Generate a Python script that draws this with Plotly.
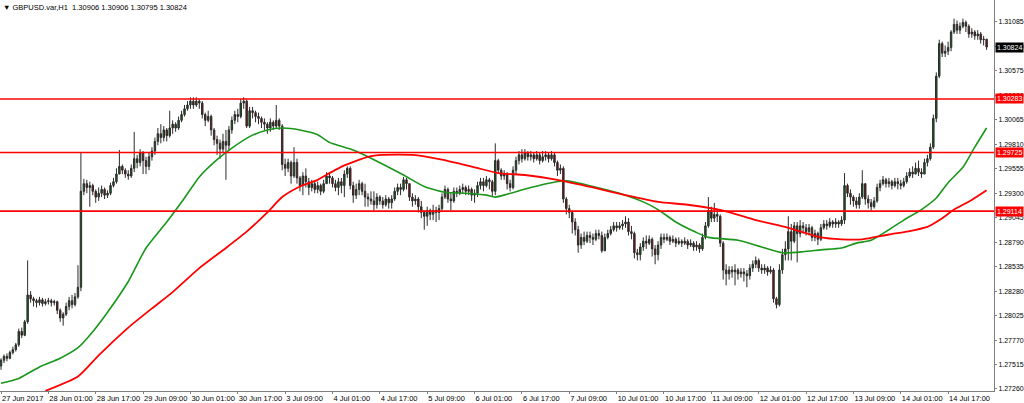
import plotly.graph_objects as go

# ---------------- data (GBPUSD H1) ----------------
first_open = 1.2750
closes = [
    1.2756,1.2760,1.2758,1.2764,1.2767,1.2772,1.2786,1.2782,1.2796,1.2824,
    1.2820,1.2818,1.2816,1.2819,1.2815,1.2817,1.2818,1.2816,1.2817,1.2808,
    1.2800,1.2804,1.2812,1.2818,1.2814,1.2822,1.2832,1.2932,1.2940,1.2936,
    1.2938,1.2932,1.2926,1.2930,1.2934,1.2928,1.2930,1.2938,1.2942,1.2950,
    1.2958,1.2954,1.2950,1.2948,1.2956,1.2966,1.2962,1.2972,1.2964,1.2958,
    1.2968,1.2974,1.2984,1.2992,1.2988,1.2996,1.2990,1.2998,1.3002,1.2998,
    1.3006,1.3012,1.3018,1.3022,1.3026,1.3022,1.3026,1.3024,1.3012,1.3006,
    1.3010,1.2996,1.2986,1.2982,1.2976,1.2984,1.2980,1.2996,1.3006,1.3012,
    1.3010,1.3024,1.3026,1.3000,1.3016,1.3014,1.3010,1.3008,1.3004,1.3002,
    1.2998,1.3004,1.3000,1.3006,1.3000,1.2960,1.2956,1.2962,1.2948,1.2962,
    1.2946,1.2938,1.2948,1.2942,1.2936,1.2940,1.2934,1.2938,1.2932,1.2940,
    1.2948,1.2946,1.2940,1.2936,1.2942,1.2938,1.2950,1.2956,1.2938,1.2928,
    1.2934,1.2940,1.2932,1.2926,1.2924,1.2922,1.2918,1.2926,1.2922,1.2918,
    1.2924,1.2920,1.2924,1.2932,1.2936,1.2934,1.2944,1.2940,1.2926,1.2922,
    1.2924,1.2916,1.2910,1.2906,1.2912,1.2908,1.2912,1.2910,1.2914,1.2926,
    1.2934,1.2924,1.2922,1.2932,1.2930,1.2934,1.2936,1.2932,1.2934,1.2928,
    1.2930,1.2938,1.2942,1.2938,1.2944,1.2942,1.2932,1.2964,1.2954,1.2948,
    1.2950,1.2940,1.2936,1.2954,1.2964,1.2970,1.2966,1.2972,1.2968,1.2970,
    1.2966,1.2970,1.2964,1.2968,1.2970,1.2966,1.2970,1.2962,1.2954,1.2956,
    1.2924,1.2914,1.2910,1.2900,1.2892,1.2876,1.2884,1.2880,1.2886,1.2884,
    1.2882,1.2888,1.2886,1.2870,1.2884,1.2888,1.2892,1.2896,1.2894,1.2896,
    1.2898,1.2900,1.2890,1.2888,1.2868,1.2866,1.2874,1.2880,1.2878,1.2882,
    1.2872,1.2866,1.2876,1.2884,1.2882,1.2884,1.2880,1.2882,1.2878,1.2880,
    1.2878,1.2880,1.2876,1.2878,1.2874,1.2876,1.2872,1.2884,1.2896,1.2912,
    1.2904,1.2908,1.2906,1.2878,1.2850,1.2846,1.2850,1.2848,1.2850,1.2846,
    1.2848,1.2846,1.2844,1.2852,1.2856,1.2860,1.2852,1.2850,1.2852,1.2848,
    1.2850,1.2820,1.2814,1.2850,1.2866,1.2872,1.2890,1.2880,1.2896,1.2888,
    1.2896,1.2894,1.2890,1.2894,1.2884,1.2888,1.2882,1.2894,1.2898,1.2896,
    1.2900,1.2898,1.2900,1.2898,1.2902,1.2938,1.2930,1.2926,1.2922,1.2918,
    1.2926,1.2940,1.2924,1.2920,1.2916,1.2922,1.2936,1.2940,1.2944,1.2940,
    1.2942,1.2938,1.2942,1.2940,1.2938,1.2942,1.2948,1.2952,1.2950,1.2956,
    1.2952,1.2950,1.2962,1.2966,1.2978,1.3008,1.3052,1.3086,1.3076,1.3078,
    1.3082,1.3098,1.3106,1.3100,1.3104,1.3108,1.3104,1.3096,1.3098,1.3094,
    1.3096,1.3090,1.30906,1.30824,
]
highs = [
    1.2758,1.2762,1.2763,1.2766,1.2770,1.2774,1.2789,1.2790,1.2798,1.2860,
    1.2828,1.2822,1.2820,1.2822,1.2821,1.2820,1.2821,1.2820,1.2819,1.2818,
    1.2810,1.2806,1.2816,1.2822,1.2824,1.2826,1.2855,1.2972,1.2945,1.2944,
    1.2942,1.2940,1.2934,1.2936,1.2938,1.2936,1.2933,1.2941,1.2946,1.2956,
    1.2975,1.2960,1.2956,1.2954,1.2960,1.2994,1.2970,1.2976,1.2974,1.2968,
    1.2972,1.2978,1.2988,1.2998,1.3002,1.3000,1.2998,1.3016,1.3006,1.3004,
    1.3010,1.3016,1.3022,1.3026,1.3030,1.3030,1.3030,1.3028,1.3026,1.3014,
    1.3016,1.3012,1.2998,1.2990,1.2986,1.2992,1.2996,1.3000,1.3010,1.3016,
    1.3018,1.3028,1.3030,1.3028,1.3020,1.3020,1.3016,1.3014,1.3010,1.3008,
    1.3004,1.3008,1.3006,1.3022,1.3008,1.3002,1.2966,1.2966,1.2964,1.2978,
    1.2966,1.2948,1.2952,1.2956,1.2946,1.2944,1.2942,1.2942,1.2940,1.2944,
    1.2952,1.2950,1.2948,1.2944,1.2946,1.2946,1.2954,1.2958,1.2958,1.2942,
    1.2940,1.2944,1.2942,1.2940,1.2930,1.2932,1.2932,1.2930,1.2928,1.2926,
    1.2928,1.2926,1.2928,1.2936,1.2940,1.2940,1.2947,1.2946,1.2940,1.2930,
    1.2928,1.2926,1.2922,1.2912,1.2916,1.2914,1.2918,1.2916,1.2918,1.2930,
    1.2938,1.2936,1.2930,1.2936,1.2936,1.2938,1.2940,1.2938,1.2938,1.2936,
    1.2934,1.2942,1.2946,1.2946,1.2948,1.2946,1.2944,1.2982,1.2966,1.2956,
    1.2954,1.2952,1.2944,1.2958,1.2968,1.2974,1.2976,1.2976,1.2974,1.2974,
    1.2972,1.2974,1.2972,1.2974,1.2974,1.2972,1.2974,1.2972,1.2964,1.2960,
    1.2958,1.2926,1.2918,1.2912,1.2904,1.2896,1.2888,1.2890,1.2890,1.2890,
    1.2888,1.2892,1.2892,1.2890,1.2888,1.2892,1.2896,1.2900,1.2900,1.2900,
    1.2902,1.2906,1.2904,1.2896,1.2890,1.2872,1.2878,1.2884,1.2886,1.2886,
    1.2884,1.2876,1.2880,1.2888,1.2888,1.2888,1.2886,1.2886,1.2884,1.2884,
    1.2882,1.2884,1.2882,1.2882,1.2880,1.2880,1.2878,1.2888,1.2900,1.2926,
    1.2916,1.2920,1.2912,1.2908,1.2880,1.2856,1.2854,1.2854,1.2856,1.2852,
    1.2852,1.2852,1.2850,1.2856,1.2860,1.2864,1.2862,1.2856,1.2856,1.2854,
    1.2854,1.2852,1.2822,1.2856,1.2872,1.2880,1.2906,1.2898,1.2900,1.2900,
    1.2902,1.2900,1.2898,1.2898,1.2896,1.2892,1.2890,1.2898,1.2902,1.2902,
    1.2904,1.2902,1.2904,1.2902,1.2906,1.2951,1.2940,1.2934,1.2928,1.2926,
    1.2930,1.2954,1.2940,1.2928,1.2924,1.2926,1.2940,1.2944,1.2948,1.2946,
    1.2946,1.2944,1.2946,1.2946,1.2944,1.2946,1.2952,1.2956,1.2958,1.2962,
    1.2964,1.2956,1.2966,1.2970,1.2982,1.3012,1.3056,1.3090,1.3088,1.3084,
    1.3088,1.3100,1.3112,1.3110,1.3108,1.3112,1.3110,1.3106,1.3102,1.3100,
    1.3100,1.3098,1.3094,1.30906,
]
lows = [
    1.2746,1.2753,1.2755,1.2757,1.2762,1.2765,1.2770,1.2779,1.2781,1.2794,
    1.2816,1.2812,1.2811,1.2813,1.2812,1.2813,1.2814,1.2812,1.2813,1.2804,
    1.2796,1.2792,1.2802,1.2808,1.2810,1.2812,1.2820,1.2828,1.2928,1.2930,
    1.2916,1.2928,1.2920,1.2922,1.2926,1.2924,1.2925,1.2928,1.2936,1.2940,
    1.2950,1.2950,1.2946,1.2944,1.2946,1.2952,1.2956,1.2958,1.2950,1.2950,
    1.2954,1.2964,1.2970,1.2980,1.2982,1.2984,1.2984,1.2988,1.2992,1.2994,
    1.2996,1.3004,1.3010,1.3016,1.3018,1.3018,1.3020,1.3018,1.3008,1.3000,
    1.3004,1.2990,1.2980,1.2970,1.2966,1.2972,1.2944,1.2974,1.2992,1.3002,
    1.3004,1.3008,1.3018,1.2998,1.2998,1.3008,1.3004,1.3002,1.2998,1.2996,
    1.2992,1.2994,1.2996,1.2998,1.2996,1.2954,1.2948,1.2952,1.2940,1.2946,
    1.2940,1.2932,1.2928,1.2936,1.2928,1.2932,1.2930,1.2930,1.2928,1.2930,
    1.2940,1.2940,1.2936,1.2932,1.2928,1.2930,1.2926,1.2946,1.2934,1.2920,
    1.2924,1.2928,1.2928,1.2916,1.2916,1.2918,1.2912,1.2914,1.2918,1.2914,
    1.2916,1.2914,1.2914,1.2922,1.2928,1.2928,1.2932,1.2934,1.2922,1.2916,
    1.2918,1.2910,1.2904,1.2892,1.2896,1.2902,1.2902,1.2900,1.2902,1.2912,
    1.2924,1.2920,1.2912,1.2920,1.2926,1.2928,1.2930,1.2928,1.2928,1.2922,
    1.2920,1.2926,1.2934,1.2932,1.2936,1.2934,1.2926,1.2928,1.2950,1.2944,
    1.2944,1.2934,1.2932,1.2934,1.2950,1.2960,1.2962,1.2964,1.2964,1.2964,
    1.2962,1.2964,1.2960,1.2962,1.2964,1.2962,1.2964,1.2958,1.2948,1.2950,
    1.2920,1.2908,1.2904,1.2888,1.2886,1.2868,1.2872,1.2876,1.2878,1.2878,
    1.2876,1.2880,1.2882,1.2868,1.2870,1.2882,1.2886,1.2890,1.2890,1.2892,
    1.2892,1.2894,1.2886,1.2882,1.2862,1.2860,1.2860,1.2870,1.2872,1.2876,
    1.2864,1.2856,1.2860,1.2872,1.2878,1.2880,1.2876,1.2878,1.2874,1.2876,
    1.2874,1.2876,1.2872,1.2874,1.2870,1.2870,1.2868,1.2870,1.2882,1.2894,
    1.2900,1.2900,1.2900,1.2874,1.2840,1.2834,1.2840,1.2842,1.2834,1.2840,
    1.2842,1.2838,1.2832,1.2840,1.2848,1.2852,1.2848,1.2846,1.2846,1.2844,
    1.2846,1.2816,1.2810,1.2812,1.2846,1.2860,1.2860,1.2860,1.2878,1.2858,
    1.2884,1.2888,1.2886,1.2886,1.2880,1.2880,1.2876,1.2880,1.2892,1.2892,
    1.2894,1.2894,1.2894,1.2894,1.2896,1.2898,1.2926,1.2918,1.2916,1.2914,
    1.2914,1.2924,1.2918,1.2914,1.2912,1.2914,1.2920,1.2932,1.2938,1.2936,
    1.2936,1.2934,1.2936,1.2934,1.2934,1.2936,1.2940,1.2946,1.2946,1.2950,
    1.2948,1.2946,1.2950,1.2958,1.2964,1.2976,1.3004,1.3050,1.3072,1.3072,
    1.3074,1.3078,1.3096,1.3096,1.3096,1.3102,1.3098,1.3092,1.3092,1.3090,
    1.3090,1.3086,1.3084,1.30795,
]

# moving averages sampled from the chart (bar index, price)
ma_fast_bar = [0,6,13,20,26,30,36,43,49,56,62,67,73,78,84,90,95,101,107,111,119,126,136,143,150,157,
               164,167,171,179,186,191,200,211,217,222,228,235,239,249,257,264,271,277,284,289,294,300,
               305,311,316,320,325,329,333]
ma_fast = [1.2732,1.2737,1.2749,1.2758,1.2769,1.2782,1.2806,1.2838,1.2873,1.2900,1.2925,1.2947,1.2965,
           1.2977,1.2989,1.2996,1.2998,1.2996,1.2991,1.2983,1.2975,1.2965,1.2949,1.2937,1.2931,1.2930,
           1.2928,1.2926,1.2929,1.2936,1.2941,1.2943,1.2937,1.2928,1.2921,1.2913,1.2900,1.2889,1.2884,
           1.2881,1.2874,1.2868,1.2869,1.2871,1.2873,1.2878,1.2881,1.2892,1.2902,1.2913,1.2925,1.2941,
           1.2957,1.2978,1.2998]
ma_slow_bar = [15,26,33,43,51,58,67,76,83,90,95,101,107,111,116,124,129,139,149,160,168,177,188,200,211,
               222,232,244,255,266,277,284,291,300,306,313,318,322,328,333]
ma_slow = [1.2724,1.2739,1.2761,1.2790,1.2810,1.2827,1.2852,1.2873,1.2890,1.2910,1.2926,1.2937,1.2944,
           1.2951,1.2959,1.2968,1.2970,1.2970,1.2965,1.2957,1.2951,1.2949,1.2944,1.2936,1.2928,1.2921,
           1.2918,1.2912,1.2902,1.2894,1.2884,1.2882,1.2882,1.2887,1.2890,1.2895,1.2904,1.2913,1.2923,
           1.2933]

levels = [1.30283, 1.29725, 1.29114]
last_price = 1.30824
title_text = "GBPUSD.var,H1  1.30906 1.30906 1.30795 1.30824"

y_ticks = [1.27260,1.27515,1.27770,1.28025,1.28280,1.28535,1.28790,1.29045,1.29300,
           1.29555,1.29810,1.30065,1.30320,1.30575,1.30830,1.31085]
x_tick_bars = [0,16,32,48,64,80,96,112,128,144,160,176,192,208,224,240,256,272,288,304,320]
x_tick_text = ["27 Jun 2017","28 Jun 01:00","28 Jun 17:00","29 Jun 09:00","30 Jun 01:00",
               "30 Jun 17:00","3 Jul 09:00","4 Jul 01:00","4 Jul 17:00","5 Jul 09:00",
               "6 Jul 01:00","6 Jul 17:00","7 Jul 09:00","10 Jul 01:00","10 Jul 17:00",
               "11 Jul 09:00","12 Jul 01:00","12 Jul 17:00","13 Jul 09:00","14 Jul 01:00",
               "14 Jul 17:00"]

# ---------------- figure ----------------
opens = [first_open] + closes[:-1]
bars = list(range(len(closes)))
FONT = "Liberation Sans, Arial, sans-serif"

fig = go.Figure()
fig.add_trace(go.Candlestick(
    x=bars, open=opens, high=highs, low=lows, close=closes,
    increasing=dict(line=dict(color="#2b2b2b", width=1), fillcolor="#0d6b12"),
    decreasing=dict(line=dict(color="#2b2b2b", width=1), fillcolor="#8c0c0c"),
    whiskerwidth=0, hoverinfo="skip", showlegend=False,
))
fig.add_trace(go.Scatter(x=ma_fast_bar, y=ma_fast, mode="lines",
                         line=dict(color="#1a961a", width=1.6, shape="spline", smoothing=0.6),
                         hoverinfo="skip", showlegend=False))
fig.add_trace(go.Scatter(x=ma_slow_bar, y=ma_slow, mode="lines",
                         line=dict(color="#ff0000", width=1.8, shape="spline", smoothing=0.6),
                         hoverinfo="skip", showlegend=False))

for lv in levels:
    fig.add_shape(type="line", xref="paper", x0=0, x1=1, yref="y", y0=lv, y1=lv,
                  line=dict(color="#ff0000", width=1.6))
    fig.add_annotation(xref="paper", x=1, yref="y", y=lv, xanchor="left", yanchor="middle",
                       text=f"{lv:.5f}", showarrow=False, xshift=1,
                       font=dict(family=FONT, size=7, color="white"),
                       bgcolor="#ff0000", borderpad=1)
fig.add_annotation(xref="paper", x=1, yref="y", y=last_price, xanchor="left", yanchor="middle",
                   text=f"{last_price:.5f}", showarrow=False, xshift=1,
                   font=dict(family=FONT, size=7, color="white"),
                   bgcolor="#000000", borderpad=1)
fig.add_annotation(xref="paper", x=0, yref="paper", y=1, xanchor="left", yanchor="top",
                   text="\u25bc " + title_text, showarrow=False, xshift=1, yshift=-1,
                   font=dict(family=FONT, size=7.5, color="#000000"))

fig.update_layout(
    width=1024, height=403,
    margin=dict(l=0, r=30, t=0, b=12, autoexpand=False),
    paper_bgcolor="white", plot_bgcolor="white",
    showlegend=False,
    xaxis=dict(range=[-0.34, 335.5], rangeslider=dict(visible=False), showgrid=False,
               zeroline=False, showline=True, linecolor="#7f7f7f", linewidth=1,
               tickmode="array", tickvals=x_tick_bars, ticktext=x_tick_text,
               ticks="outside", ticklen=2, tickcolor="#7f7f7f", tickangle=0,
               ticklabelposition="outside right",
               tickfont=dict(family=FONT, size=7.5, color="#000000"), automargin=False),
    yaxis=dict(range=[1.27239, 1.31314], side="right", showgrid=False, zeroline=False,
               showline=True, linecolor="#7f7f7f", linewidth=1,
               tickmode="array", tickvals=y_ticks, ticktext=[f"{v:.5f}" for v in y_ticks],
               ticks="outside", ticklen=2, tickcolor="#7f7f7f",
               tickfont=dict(family=FONT, size=7, color="#000000"), automargin=False),
)

fig.write_html(
    "out.html",
    config={"displayModeBar": False},
    post_script="document.body.style.margin='0';document.body.style.overflow='hidden';",
)
